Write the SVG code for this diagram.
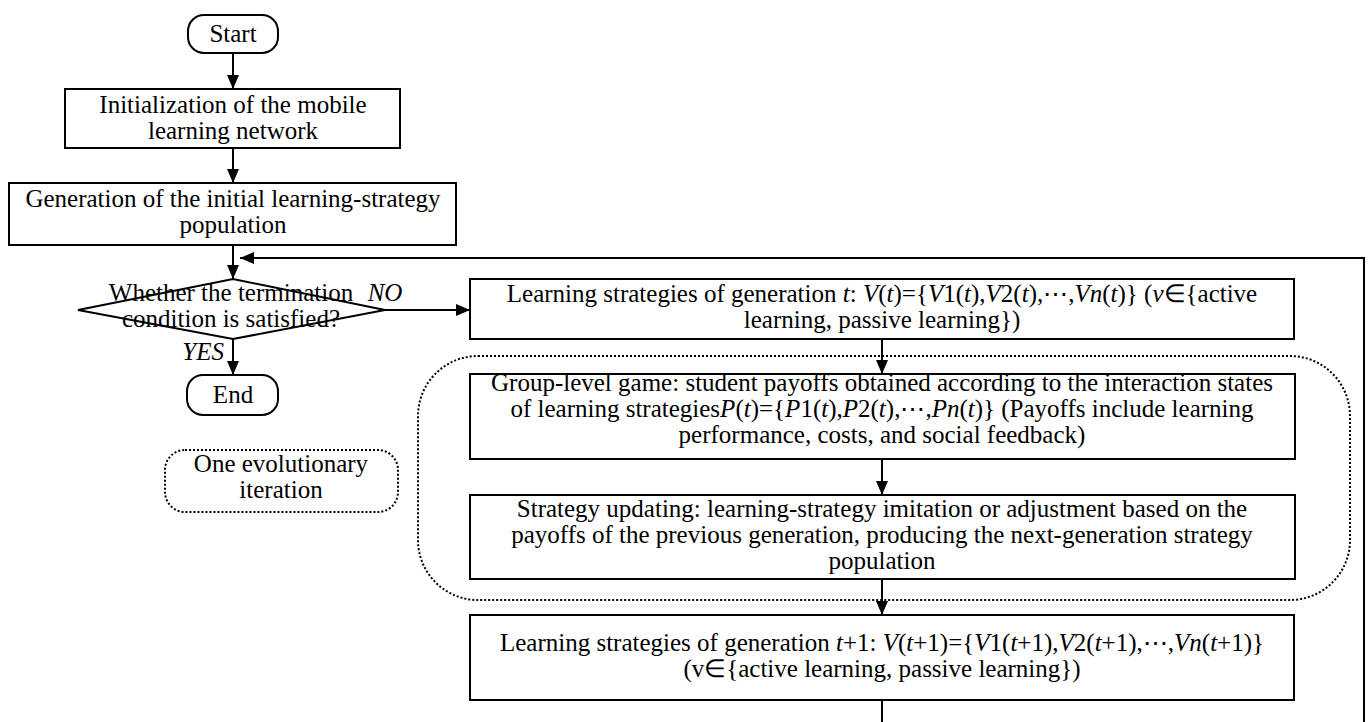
<svg xmlns="http://www.w3.org/2000/svg" width="1368" height="722" viewBox="0 0 1368 722">
<style>
  .box{fill:#fff;stroke:#000;stroke-width:2}
  .dot{fill:none;stroke:#000;stroke-width:2;stroke-dasharray:2 2}
  .conn{fill:none;stroke:#000;stroke-width:2}
  text{font-family:"Liberation Serif","Times New Roman",serif;font-size:25px;fill:#000;text-anchor:middle}
  .i{font-style:italic}
</style>
<defs>
  <marker id="arr" viewBox="0 0 14 12" refX="14" refY="6" markerWidth="14" markerHeight="12" markerUnits="userSpaceOnUse" orient="auto">
    <path d="M0,0 L14,6 L0,12 z" fill="#000"/>
  </marker>
</defs>
<rect x="0" y="0" width="1368" height="722" fill="#fff"/>

<g id="iteration-frame">
  <rect class="dot" x="418" y="356" width="932" height="244" rx="60" ry="60"/>
</g>

<g id="connectors">
  <path class="conn" d="M233,53 V89" marker-end="url(#arr)"/>
  <path class="conn" d="M233,148 V183" marker-end="url(#arr)"/>
  <path class="conn" d="M233,245 V279" marker-end="url(#arr)"/>
  <path class="conn" d="M233,339 V375" marker-end="url(#arr)"/>
  <path class="conn" d="M385,310 H470" marker-end="url(#arr)"/>
  <path class="conn" d="M882,339 V374" marker-end="url(#arr)"/>
  <path class="conn" d="M882,459 V495" marker-end="url(#arr)"/>
  <path class="conn" d="M882,579 V615" marker-end="url(#arr)"/>
  <path class="conn" d="M882,700 V740 H1364 V258 H240" marker-end="url(#arr)"/>
</g>

<g id="start">
  <rect class="box" x="188" y="15" width="90" height="38" rx="16" ry="16"/>
  <text x="233" y="42">Start</text>
</g>

<g id="init">
  <rect class="box" x="65" y="89" width="335" height="59"/>
  <text x="233" y="113">Initialization of the mobile</text>
  <text x="233" y="139">learning network</text>
</g>

<g id="generate">
  <rect class="box" x="9" y="183" width="447" height="62"/>
  <text x="233" y="207">Generation of the initial learning-strategy</text>
  <text x="233" y="233">population</text>
</g>

<g id="decision">
  <polygon class="conn" points="78,310 233,279 385,310 233,339"/>
  <text x="231" y="301">Whether the termination</text>
  <text x="231" y="327">condition is satisfied?</text>
  <text class="i" x="385" y="301">NO</text>
  <text class="i" x="224" y="360" style="text-anchor:end">YES</text>
</g>

<g id="end">
  <rect class="box" x="187" y="375" width="91" height="40" rx="16" ry="16"/>
  <text x="233" y="403">End</text>
</g>

<g id="iteration-label">
  <rect class="dot" x="165" y="450" width="233" height="62" rx="20" ry="20"/>
  <text x="281" y="472">One evolutionary</text>
  <text x="281" y="498">iteration</text>
</g>

<g id="gen-t">
  <rect class="box" x="470" y="279" width="824" height="60"/>
  <text x="882" y="302">Learning strategies of generation <tspan class="i">t</tspan>: <tspan class="i">V</tspan>(<tspan class="i">t</tspan>)={<tspan class="i">V</tspan>1(<tspan class="i">t</tspan>),<tspan class="i">V</tspan>2(<tspan class="i">t</tspan>),⋯,<tspan class="i">Vn</tspan>(<tspan class="i">t</tspan>)} (<tspan class="i">v</tspan>∈{active</text>
  <text x="882" y="328">learning, passive learning})</text>
</g>

<g id="group-game">
  <rect class="box" x="470" y="374" width="825" height="85"/>
  <text x="882" y="391">Group-level game: student payoffs obtained according to the interaction states</text>
  <text x="882" y="417">of learning strategies<tspan class="i">P</tspan>(<tspan class="i">t</tspan>)={<tspan class="i">P</tspan>1(<tspan class="i">t</tspan>),<tspan class="i">P</tspan>2(<tspan class="i">t</tspan>),⋯,<tspan class="i">Pn</tspan>(<tspan class="i">t</tspan>)} (Payoffs include learning</text>
  <text x="882" y="443">performance, costs, and social feedback)</text>
</g>

<g id="strategy-update">
  <rect class="box" x="470" y="495" width="825" height="84"/>
  <text x="882" y="517">Strategy updating: learning-strategy imitation or adjustment based on the</text>
  <text x="882" y="543">payoffs of the previous generation, producing the next-generation strategy</text>
  <text x="882" y="569">population</text>
</g>

<g id="gen-t1">
  <rect class="box" x="470" y="615" width="824" height="85"/>
  <text x="882" y="651">Learning strategies of generation <tspan class="i">t</tspan>+1: <tspan class="i">V</tspan>(<tspan class="i">t</tspan>+1)={<tspan class="i">V</tspan>1(<tspan class="i">t</tspan>+1),<tspan class="i">V</tspan>2(<tspan class="i">t</tspan>+1),⋯,<tspan class="i">Vn</tspan>(<tspan class="i">t</tspan>+1)}</text>
  <text x="882" y="677">(v∈{active learning, passive learning})</text>
</g>
</svg>
